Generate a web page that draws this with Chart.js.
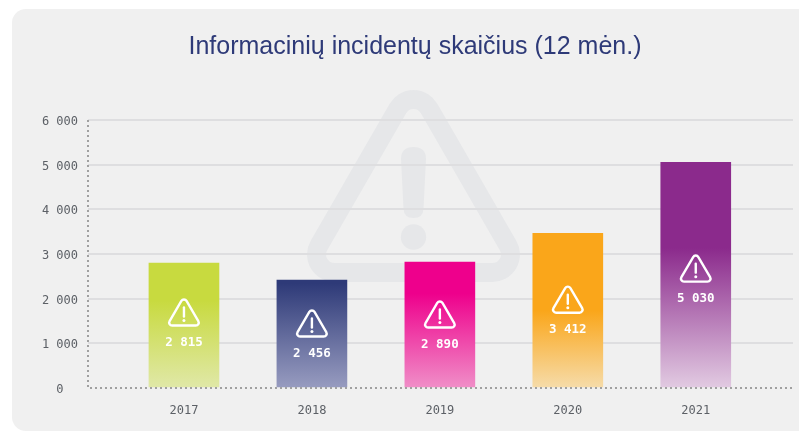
<!DOCTYPE html>
<html><head><meta charset="utf-8">
<style>
html,body{margin:0;padding:0;background:#fff;width:799px;height:432px;overflow:hidden}
#panel{position:absolute;left:12px;top:9px;width:830px;height:422px;background:#f0f0f0;border-radius:14px}
#wrap{position:absolute;left:0;top:0;width:799px;height:432px}
</style>
<script src="https://cdn.jsdelivr.net/npm/chart.js@4"></script>
</head><body>
<div id="panel"></div>
<div id="wrap"><canvas id="c" width="799" height="432"></canvas></div>
<script>
const titleText = 'Informacinių incidentų skaičius (12 mėn.)';
const categories = ['2017','2018','2019','2020','2021'];
const barHeights = [2796,2415,2818,3461,5054];
const valueLabels = ['2 815','2 456','2 890','3 412','5 030'];
const yTicks = [0,1000,2000,3000,4000,5000,6000];
const topColors = ['#c8da3f','#2e3a78','#ee008c','#faa61a','#8b2a8c'];
const bottomColors = ['#e0e8a8','#989cc0','#f08fc8','#f6dcaa','#e2cbe2'];
const solidStops = [0.3,0.03,0.25,0.5,0.38];
const labelDrop = [17.5,20,20,19.5,24];

function fmt(v){return String(v).replace(/\B(?=(\d{3})+$)/g,' ');}

function tri(ctx,cx,ay,ax,bx,by,r){
  ctx.beginPath();
  ctx.moveTo((ax+bx)/2,by);
  ctx.arcTo(bx,by,cx,ay,r);
  ctx.arcTo(cx,ay,ax,by,r);
  ctx.arcTo(ax,by,bx,by,r);
  ctx.closePath();
}

const watermark = {
  id:'watermark',
  beforeDraw(chart){
    const ctx=chart.ctx;
    ctx.save();
    ctx.strokeStyle='#e6e7e9';ctx.fillStyle='#e6e7e9';ctx.lineWidth=19;ctx.lineJoin='round';
    tri(ctx,413.5,81.5,303.4,523.6,272.5,18);
    ctx.stroke();
    ctx.beginPath();
    ctx.moveTo(401,159);
    ctx.quadraticCurveTo(401,147,413.5,147);
    ctx.quadraticCurveTo(426,147,426,159);
    ctx.lineTo(423.5,209);
    ctx.quadraticCurveTo(423,218,413.5,218);
    ctx.quadraticCurveTo(404,218,403.5,209);
    ctx.closePath();ctx.fill();
    ctx.beginPath();ctx.arc(413.5,237,12.7,0,Math.PI*2);ctx.fill();
    ctx.restore();
  }
};

const barMarks = {
  id:'barMarks',
  afterDatasetsDraw(chart){
    const ctx=chart.ctx, meta=chart.getDatasetMeta(0), a=chart.chartArea;
    ctx.save();
    ctx.strokeStyle='#a0a0a0';ctx.lineWidth=2;ctx.setLineDash([2,3]);
    ctx.beginPath();
    ctx.moveTo(a.left,a.top);ctx.lineTo(a.left,a.bottom);ctx.lineTo(a.right,a.bottom);
    ctx.stroke();
    ctx.setLineDash([]);
    meta.data.forEach((el,i)=>{
      const ly=(el.y+el.base)/2+labelDrop[i], ix=el.x;
      ctx.strokeStyle='#fff';ctx.fillStyle='#fff';ctx.lineWidth=2.4;ctx.lineJoin='round';
      tri(ctx,ix,ly-46,ix-17,ix+17,ly-17,3);
      ctx.stroke();
      ctx.lineCap='round';
      ctx.beginPath();ctx.moveTo(ix,ly-35);ctx.lineTo(ix,ly-26);ctx.stroke();
      ctx.beginPath();ctx.arc(ix,ly-22,1.5,0,Math.PI*2);ctx.fill();
      ctx.font='bold 12.5px "DejaVu Sans Mono"';
      ctx.textAlign='center';ctx.textBaseline='middle';
      ctx.fillText(valueLabels[i],ix,ly);
    });
    ctx.restore();
  }
};

function grad(ctx,scale,i){
  const y0=scale.getPixelForValue(barHeights[i]), y1=scale.getPixelForValue(0);
  const g=ctx.createLinearGradient(0,y0,0,y1);
  g.addColorStop(0,topColors[i]);
  g.addColorStop(solidStops[i],topColors[i]);
  g.addColorStop(1,bottomColors[i]);
  return g;
}

new Chart(document.getElementById('c'),{
  type:'bar',
  data:{datasets:[{
    data:categories.map((c,i)=>({x:i,y:barHeights[i]})),
    barThickness:70,
    backgroundColor(ctx){
      const ch=ctx.chart;
      if(!ch.chartArea) return topColors[ctx.dataIndex];
      return grad(ch.ctx,ch.scales.y,ctx.dataIndex);
    }
  }]},
  plugins:[watermark,barMarks],
  options:{
    responsive:false,animation:false,
    layout:{padding:{left:37,right:6,top:0,bottom:0}},
    plugins:{
      legend:{display:false},tooltip:{enabled:false},
      title:{display:true,text:titleText,color:'#2e3a78',
        font:{family:'"Liberation Sans"',size:25,weight:'normal'},
        padding:{top:32,bottom:58}}
    },
    scales:{
      x:{type:'linear',min:-0.75,max:4.76,offset:false,bounds:'data',
        afterBuildTicks(a){a.ticks=categories.map((_,i)=>({value:i}));},
        afterFit(a){a.height=44;},
        grid:{display:false,drawTicks:false},
        border:{display:false},
        ticks:{autoSkip:false,maxRotation:0,padding:16,color:'#5c6066',
          font:{family:'"DejaVu Sans Mono"',size:12},
          callback(v){return categories[v];}}
      },
      y:{min:0,max:6000,
        afterBuildTicks(a){a.ticks=yTicks.map(v=>({value:v}));},
        afterFit(a){a.width=51;},
        grid:{drawTicks:false,lineWidth:2,color(c){return c.tick.value===0?'rgba(0,0,0,0)':'#dedee0';}},
        border:{display:false},
        ticks:{padding:10,color:'#5c6066',crossAlign:'center',labelOffset:2,
          font:{family:'"DejaVu Sans Mono"',size:12},
          callback(v){return fmt(v);}}
      }
    }
  }
});
</script>
</body></html>
